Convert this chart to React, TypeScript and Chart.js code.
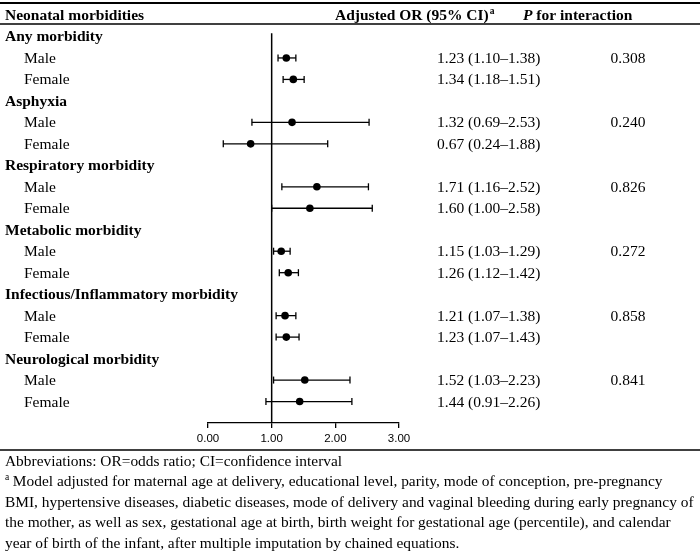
import React, { useEffect, useRef } from "react";
import { Chart, registerables } from "chart.js";

Chart.register(...registerables);

// Outcome groups and the two sexes listed under each
const outcomes = [
  "Any morbidity",
  "Asphyxia",
  "Respiratory morbidity",
  "Metabolic morbidity",
  "Infectious/Inflammatory morbidity",
  "Neurological morbidity",
];
const sexes = ["Male", "Female"];

// Adjusted odds ratios with 95% CI, ordered Male, Female per outcome
const orValues = [1.23, 1.34, 1.32, 0.67, 1.71, 1.6, 1.15, 1.26, 1.21, 1.23, 1.52, 1.44];
const ciLower = [1.1, 1.18, 0.69, 0.24, 1.16, 1.0, 1.03, 1.12, 1.07, 1.07, 1.03, 0.91];
const ciUpper = [1.38, 1.51, 2.53, 1.88, 2.52, 2.58, 1.29, 1.42, 1.38, 1.43, 2.23, 2.26];

// P for interaction, one per outcome
const pInteraction = ["0.308", "0.240", "0.826", "0.272", "0.858", "0.841"];

const xTicks = [0, 1, 2, 3];
const referenceOR = 1;

const footnotes = [
  "Abbreviations: OR=odds ratio; CI=confidence interval",
  " Model adjusted for maternal age at delivery, educational level, parity, mode of conception, pre-pregnancy",
  "BMI, hypertensive diseases, diabetic diseases, mode of delivery and vaginal bleeding during early pregnancy of",
  "the mother, as well as sex, gestational age at birth, birth weight for gestational age (percentile), and calendar",
  "year of birth of the infant, after multiple imputation by chained equations.",
];

const W = 700;
const H = 556;
const SERIF = '"Liberation Serif", "Times New Roman", serif';
const ROW_COUNT = outcomes.length * 3;

// row index on the y scale: outcome heading, then Male, then Female
const rowOf = (i: number) => Math.floor(i / 2) * 3 + 1 + (i % 2);
const fmt = (v: number) => v.toFixed(2);

const tablePlugin = {
  id: "forestTable",
  afterDraw(chart: any) {
    const ctx: CanvasRenderingContext2D = chart.ctx;
    const y = chart.scales.y;
    ctx.save();
    ctx.fillStyle = "#000";
    ctx.strokeStyle = "#000";

    // table rules
    const rule = (py: number, lw: number) => {
      ctx.lineWidth = lw;
      ctx.beginPath();
      ctx.moveTo(0, py);
      ctx.lineTo(W, py);
      ctx.stroke();
    };
    rule(3, 2);
    rule(24, 1.5);
    rule(450, 1.5);

    ctx.textBaseline = "alphabetic";
    const base = (row: number) => y.getPixelForValue(row) + 5;

    // header
    const hy = base(-1);
    ctx.textAlign = "left";
    ctx.font = `bold 15.5px ${SERIF}`;
    ctx.fillText("Neonatal morbidities", 5, hy);
    const head = "Adjusted OR (95% CI)";
    ctx.fillText(head, 335, hy);
    const hw = ctx.measureText(head).width;
    ctx.font = `bold 9.5px ${SERIF}`;
    ctx.fillText("a", 335 + hw + 1, hy - 6);
    ctx.font = `bold italic 15.5px ${SERIF}`;
    ctx.fillText("P", 523, hy);
    const pw = ctx.measureText("P").width;
    ctx.font = `bold 15.5px ${SERIF}`;
    ctx.fillText(" for interaction", 523 + pw, hy);

    // outcome headings
    outcomes.forEach((name, k) => {
      ctx.font = `bold 15.5px ${SERIF}`;
      ctx.textAlign = "left";
      ctx.fillText(name, 5, base(k * 3));
      ctx.font = `15.5px ${SERIF}`;
      ctx.textAlign = "center";
      ctx.fillText(pInteraction[k], 628, base(k * 3 + 1));
    });

    // sex rows with estimates
    orValues.forEach((v, i) => {
      const r = rowOf(i);
      ctx.font = `15.5px ${SERIF}`;
      ctx.textAlign = "left";
      ctx.fillText(sexes[i % 2], 24, base(r));
      ctx.fillText(`${fmt(v)} (${fmt(ciLower[i])}\u2013${fmt(ciUpper[i])})`, 437, base(r));
    });

    // footnotes
    ctx.textAlign = "left";
    footnotes.forEach((line, k) => {
      const fy = 466 + k * 20.4;
      if (k === 1) {
        ctx.font = `9.5px ${SERIF}`;
        ctx.fillText("a", 5, fy - 6);
        ctx.font = `15.4px ${SERIF}`;
        ctx.fillText(line, 9, fy);
      } else {
        ctx.font = `15.4px ${SERIF}`;
        ctx.fillText(line, 5, fy);
      }
    });
    ctx.restore();
  },
};

export default function App() {
  const canvasRef = useRef<HTMLCanvasElement | null>(null);

  useEffect(() => {
    const canvas = canvasRef.current;
    if (!canvas) return;

    const whiskers = orValues.map((_, i) => ({
      type: "line" as const,
      data: [
        { x: ciLower[i], y: rowOf(i) },
        { x: ciUpper[i], y: rowOf(i) },
      ],
      borderColor: "#000",
      borderWidth: 1.3,
      pointRadius: 0,
      showLine: true,
    }));

    const caps = {
      type: "scatter" as const,
      data: orValues.flatMap((_, i) => [
        { x: ciLower[i], y: rowOf(i) },
        { x: ciUpper[i], y: rowOf(i) },
      ]),
      pointStyle: "line",
      rotation: 90,
      pointRadius: 3.5,
      borderColor: "#000",
      borderWidth: 1.3,
    };

    const estimates = {
      type: "scatter" as const,
      data: orValues.map((v, i) => ({ x: v, y: rowOf(i) })),
      pointRadius: 3.8,
      backgroundColor: "#000",
      borderColor: "#000",
      borderWidth: 0,
    };

    const refLine = {
      type: "line" as const,
      data: [
        { x: referenceOR, y: -0.15 },
        { x: referenceOR, y: ROW_COUNT },
      ],
      borderColor: "#000",
      borderWidth: 1.5,
      pointRadius: 0,
      showLine: true,
    };

    const chart = new Chart(canvas, {
      type: "scatter",
      data: { datasets: [refLine, ...whiskers, caps, estimates] as any },
      options: {
        responsive: false,
        animation: false,
        events: [],
        layout: { padding: { left: 208, right: W - 399, top: 15, bottom: 103 } },
        plugins: { legend: { display: false }, tooltip: { enabled: false } },
        scales: {
          x: {
            type: "linear",
            min: xTicks[0],
            max: xTicks[xTicks.length - 1],
            afterBuildTicks: (axis: any) => {
              axis.ticks = xTicks.map((v) => ({ value: v }));
            },
            afterFit: (axis: any) => {
              axis.height = 30;
            },
            ticks: {
              callback: (v: any) => Number(v).toFixed(2),
              color: "#000",
              font: { family: '"Liberation Sans", Arial, sans-serif', size: 11.5 },
              padding: 4,
              maxRotation: 0,
            },
            grid: {
              drawOnChartArea: false,
              drawTicks: true,
              tickLength: 5,
              color: "#000",
              lineWidth: 1.3,
            },
            border: { display: true, color: "#000", width: 1.3 },
          },
          y: {
            type: "linear",
            display: false,
            reverse: true,
            min: -1,
            max: ROW_COUNT,
          },
        },
      },
      plugins: [tablePlugin],
    });

    return () => chart.destroy();
  }, []);

  return (
    <div style={{ position: "absolute", left: 0, top: 0, width: W, height: H, background: "#fff" }}>
      <canvas ref={canvasRef} width={W} height={H} style={{ width: W, height: H, display: "block" }} />
    </div>
  );
}
